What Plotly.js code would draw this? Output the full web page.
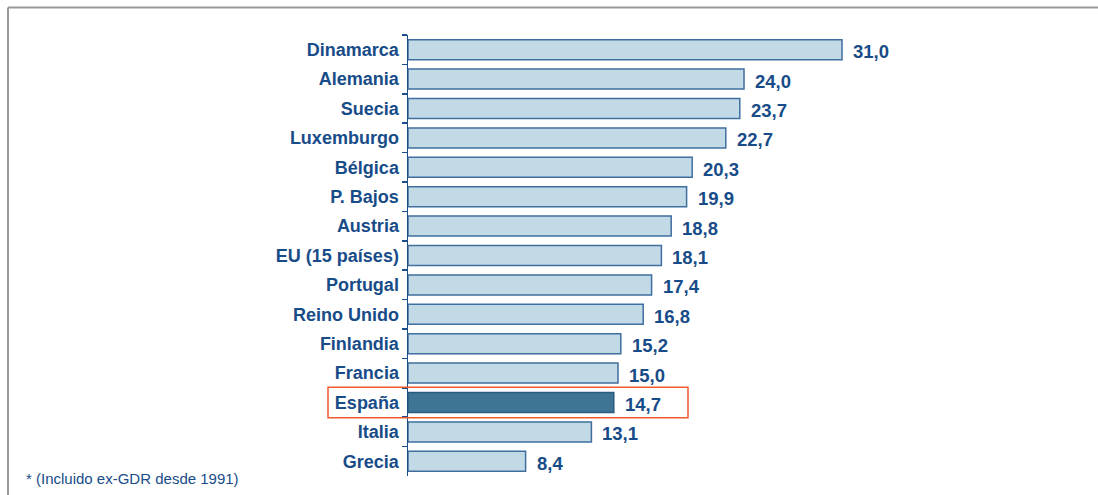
<!DOCTYPE html>
<html>
<head>
<meta charset="utf-8">
<script src="https://cdn.plot.ly/plotly-3.0.1.min.js"></script>
<style>html,body{margin:0;padding:0;background:#fff;}#chart{width:1098px;height:495px;}</style>
</head>
<body>
<div id="chart"></div>
<script>
const countries = ["Dinamarca","Alemania","Suecia","Luxemburgo","Bélgica","P. Bajos","Austria","EU (15 países)","Portugal","Reino Unido","Finlandia","Francia","España","Italia","Grecia"];
const values = [31.0,24.0,23.7,22.7,20.3,19.9,18.8,18.1,17.4,16.8,15.2,15.0,14.7,13.1,8.4];
const valueLabels = ["31,0","24,0","23,7","22,7","20,3","19,9","18,8","18,1","17,4","16,8","15,2","15,0","14,7","13,1","8,4"];
const highlight = "España";
const footnote = "* (Incluido ex-GDR desde 1991)";

const W = 1098, H = 495;
const M = {l: 408, r: 18, t: 35, b: 19};
const pw = W - M.l - M.r, ph = H - M.t - M.b;
const px = x => (x - M.l) / pw;          // pixel -> paper x
const py = y => (H - M.b - y) / ph;      // pixel -> paper y

const textColor = "#184c88";
const fills = countries.map(c => c === highlight ? "#3e7595" : "#c2d9e6");
const lines = countries.map(c => c === highlight ? "#2b5a80" : "#3f6f9f");

const trace = {
  type: "bar", orientation: "h",
  x: values, y: countries,
  marker: {color: fills, line: {color: lines, width: 1.5}},
  hoverinfo: "skip"
};

const annotations = countries.map((c, i) => ({
  x: values[i], y: c, xref: "x", yref: "y",
  text: valueLabels[i], showarrow: false,
  xanchor: "left", yanchor: "middle", xshift: 9, yshift: -2,
  font: {family: "Liberation Sans, Arial, sans-serif", size: 18.5, color: textColor, weight: "bold"}
}));
annotations.push({
  x: px(24), y: py(478), xref: "paper", yref: "paper",
  text: footnote, showarrow: false, xanchor: "left", yanchor: "middle",
  font: {family: "Liberation Sans, Arial, sans-serif", size: 15, color: textColor}
});

const hi = countries.indexOf(highlight);
const shapes = [
  {type: "rect", xref: "paper", yref: "y", x0: px(328), x1: px(688), y0: hi - 0.52, y1: hi + 0.52,
   line: {color: "#f05a2a", width: 1.5}, fillcolor: "rgba(0,0,0,0)"},
  {type: "line", xref: "paper", yref: "paper", x0: px(8), x1: px(1098), y0: py(7.5), y1: py(7.5),
   line: {color: "#9a9a9a", width: 2}},
  {type: "line", xref: "paper", yref: "paper", x0: px(8), x1: px(8), y0: py(7.5), y1: py(495),
   line: {color: "#9a9a9a", width: 2}}
];

const layout = {
  width: W, height: H,
  margin: M,
  paper_bgcolor: "#fff", plot_bgcolor: "#fff",
  showlegend: false,
  bargap: 0.32,
  xaxis: {range: [0, pw / 14], visible: false, fixedrange: true},
  yaxis: {
    type: "category", autorange: "reversed",
    showline: true, linecolor: "#1b4f8a", linewidth: 1.5,
    ticks: "outside", tickson: "boundaries", ticklen: 5, tickcolor: "#1b4f8a", tickwidth: 1.5,
    showgrid: false, zeroline: false,
    tickfont: {family: "Liberation Sans, Arial, sans-serif", size: 18, color: textColor, weight: "bold"},
    ticklabelstandoff: 4
  },
  annotations: annotations,
  shapes: shapes
};

Plotly.newPlot("chart", [trace], layout, {displayModeBar: false, staticPlot: true});
</script>
</body>
</html>
